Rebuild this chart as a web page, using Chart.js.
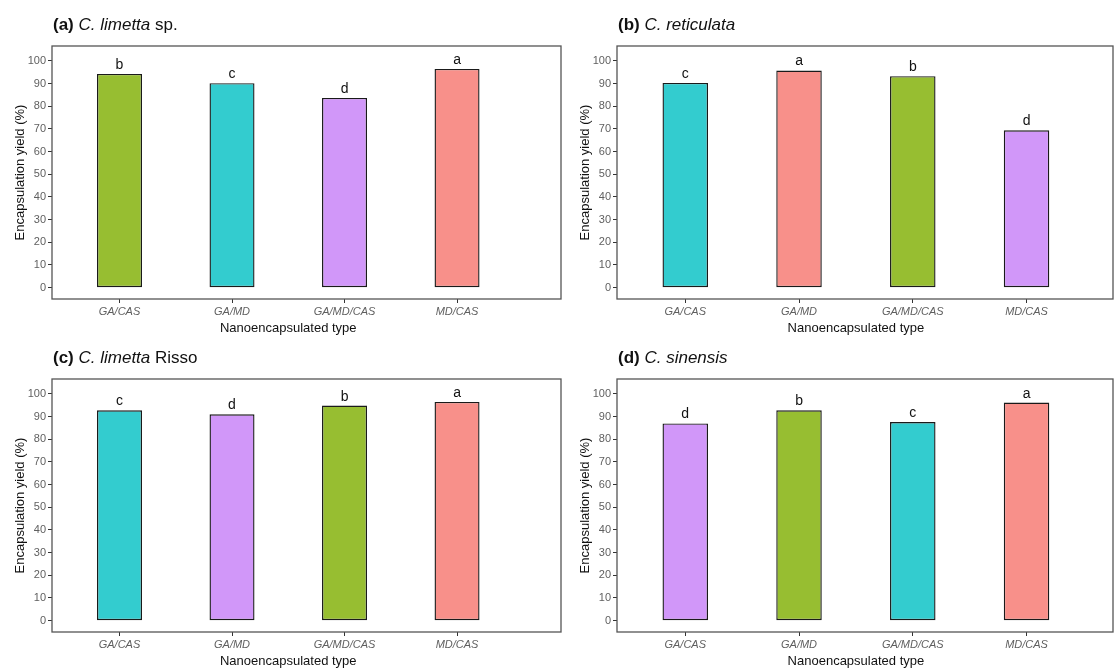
<!DOCTYPE html>
<html>
<head>
<meta charset="utf-8">
<script src="https://cdn.jsdelivr.net/npm/chart.js@4"></script>
<style>
  html, body { margin: 0; padding: 0; background: #fff; }
  #wrap { position: relative; width: 1114px; height: 668px; overflow: hidden; }
  canvas { position: absolute; }
</style>
</head>
<body>
<div id="wrap">
  <canvas id="pa" width="562" height="338" style="left:0;top:0;width:562px;height:338px"></canvas>
  <canvas id="pb" width="552" height="338" style="left:562px;top:0;width:552px;height:338px"></canvas>
  <canvas id="pc" width="562" height="330" style="left:0;top:338px;width:562px;height:330px"></canvas>
  <canvas id="pd" width="552" height="330" style="left:562px;top:338px;width:552px;height:330px"></canvas>
</div>
<script>
// Nanoencapsulation wall-material combinations
const categories = ['GA/CAS', 'GA/MD', 'GA/MD/CAS', 'MD/CAS'];

// Encapsulation yield (%) per citrus species, in category order
const yieldLimettaSp    = [94.3, 90.2, 83.7, 96.5];
const yieldReticulata   = [90.3, 95.8, 93.3, 69.4];
const yieldLimettaRisso = [92.8, 91.0, 94.9, 96.5];
const yieldSinensis     = [87.0, 92.8, 87.6, 96.2];

// Significance groups (letters shown above the bars)
const groupsLimettaSp    = ['b', 'c', 'd', 'a'];
const groupsReticulata   = ['c', 'a', 'b', 'd'];
const groupsLimettaRisso = ['c', 'd', 'b', 'a'];
const groupsSinensis     = ['d', 'b', 'c', 'a'];

const yTicks = [0, 10, 20, 30, 40, 50, 60, 70, 80, 90, 100];

// Fill colour follows the significance group
const groupColors = { a: '#F8908A', b: '#97BE31', c: '#33CCCF', d: '#D197F9' };

const FONT = '"Liberation Sans", Arial, Helvetica, sans-serif';
const TICK_COLOR = '#5f5f5f';

// Frame, group letters, axis titles and the mixed-style panel title
const decor = {
  id: 'decor',
  afterDraw(chart, args, opts) {
    const { ctx, chartArea: a } = chart;
    ctx.save();

    ctx.strokeStyle = '#555';
    ctx.lineWidth = 1.3;
    ctx.strokeRect(a.left, a.top, a.right - a.left, a.bottom - a.top);

    const meta = chart.getDatasetMeta(0);
    ctx.fillStyle = '#111';
    ctx.font = '14px ' + FONT;
    ctx.textAlign = 'center';
    ctx.textBaseline = 'alphabetic';
    meta.data.forEach((bar, i) => ctx.fillText(opts.letters[i], bar.x, bar.y - 5));

    ctx.font = '13px ' + FONT;
    ctx.textBaseline = 'middle';
    const xs = chart.scales.x;
    const xMid = (xs.getPixelForValue(1) + xs.getPixelForValue(categories.length)) / 2;
    ctx.fillText('Nanoencapsulated type', xMid, a.bottom + 29);

    ctx.save();
    ctx.translate(a.left - 32, (a.top + a.bottom) / 2);
    ctx.rotate(-Math.PI / 2);
    ctx.fillText('Encapsulation yield (%)', 0, 0);
    ctx.restore();

    ctx.textAlign = 'left';
    ctx.textBaseline = 'alphabetic';
    let x = a.left + 1;
    const y = a.top - 16;
    opts.title.forEach(part => {
      ctx.font = part.style + ' 17px ' + FONT;
      ctx.fillText(part.text, x, y);
      x += ctx.measureText(part.text).width;
    });
    ctx.restore();
  }
};

function panel(id, values, letters, title, yAxisWidth, xAxisHeight, topPad, xMax) {
  return new Chart(document.getElementById(id), {
    type: 'bar',
    data: {
      datasets: [{
        data: values.map((v, i) => ({ x: i + 1, y: v })),
        backgroundColor: letters.map(g => groupColors[g]),
        borderColor: '#1a1a1a',
        borderWidth: 1.4,
        borderSkipped: false,
        barPercentage: 0.4,
        categoryPercentage: 1
      }]
    },
    options: {
      responsive: false,
      animation: false,
      devicePixelRatio: 1,
      layout: { padding: { left: 0, top: topPad, right: 1, bottom: 0 } },
      plugins: {
        legend: { display: false },
        tooltip: { enabled: false },
        decor: { letters, title }
      },
      scales: {
        x: {
          type: 'linear',
          offset: false,
          min: 0.4,
          max: xMax,
          afterBuildTicks: s => { s.ticks = categories.map((_, i) => ({ value: i + 1 })); },
          afterFit: s => { s.height = xAxisHeight; },
          ticks: {
            callback: (v, i) => categories[i],
            color: TICK_COLOR,
            font: { family: FONT, size: 11, style: 'italic' },
            padding: 2,
            autoSkip: false,
            maxRotation: 0
          },
          grid: { offset: false, drawOnChartArea: false, drawTicks: true, tickLength: 4, color: '#333' },
          border: { display: false }
        },
        y: {
          min: -5,
          max: 106.6,
          afterBuildTicks: s => { s.ticks = yTicks.map(v => ({ value: v })); },
          afterFit: s => { s.width = yAxisWidth; },
          ticks: {
            color: TICK_COLOR,
            font: { family: FONT, size: 11 },
            padding: 2
          },
          grid: { drawOnChartArea: false, drawTicks: true, tickLength: 4, color: '#333' },
          border: { display: false }
        }
      }
    },
    plugins: [decor]
  });
}

panel('pa', yieldLimettaSp, groupsLimettaSp,
  [{ text: '(a) ', style: 'bold' }, { text: 'C. limetta', style: 'italic' }, { text: ' sp.', style: 'normal' }],
  52, 39, 46, 4.924);
panel('pb', yieldReticulata, groupsReticulata,
  [{ text: '(b) ', style: 'bold' }, { text: 'C. reticulata', style: 'italic' }],
  55, 39, 46, 4.76);
panel('pc', yieldLimettaRisso, groupsLimettaRisso,
  [{ text: '(c) ', style: 'bold' }, { text: 'C. limetta', style: 'italic' }, { text: ' Risso', style: 'normal' }],
  52, 36, 41, 4.924);
panel('pd', yieldSinensis, groupsSinensis,
  [{ text: '(d) ', style: 'bold' }, { text: 'C. sinensis', style: 'italic' }],
  55, 36, 41, 4.76);
</script>
</body>
</html>
